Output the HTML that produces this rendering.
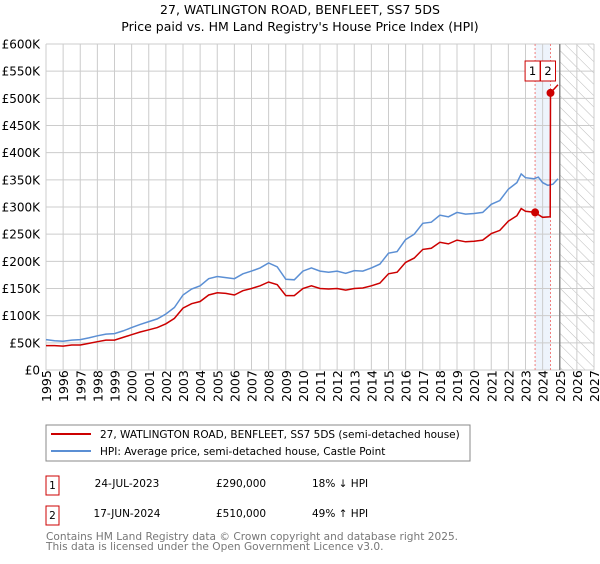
<!DOCTYPE html>
<html><head><meta charset="utf-8"><style>
body{margin:0;background:#fff;font-family:"DejaVu Sans","Liberation Sans",sans-serif;}
svg text{font-family:"DejaVu Sans","Liberation Sans",sans-serif;}
</style></head><body>
<svg id="c" width="600" height="560" xmlns="http://www.w3.org/2000/svg">
<defs><pattern id="hatch" width="8" height="8" patternUnits="userSpaceOnUse" patternTransform="rotate(-45)"><line x1="0" y1="0" x2="0" y2="8" stroke="#bbb" stroke-width="1"/></pattern></defs>
<text x="300" y="14" text-anchor="middle" font-size="12.5">27, WATLINGTON ROAD, BENFLEET, SS7 5DS</text>
<text x="300" y="31" text-anchor="middle" font-size="12.5">Price paid vs. HM Land Registry's House Price Index (HPI)</text>
<g id="plot"></g>
<g>
<rect x="46" y="425" width="424" height="36" fill="#fff" stroke="#888"/>
<line x1="51" y1="434" x2="91" y2="434" stroke="#cc0000" stroke-width="2"/>
<text x="100" y="438" font-size="10.5">27, WATLINGTON ROAD, BENFLEET, SS7 5DS (semi-detached house)</text>
<line x1="51" y1="451" x2="91" y2="451" stroke="#5b8fd4" stroke-width="2"/>
<text x="100" y="455" font-size="10.5">HPI: Average price, semi-detached house, Castle Point</text>
</g>
<g font-size="10.5">
<rect x="46" y="476" width="13" height="19" fill="#fff" stroke="#cc0000"/>
<text x="52.5" y="489" text-anchor="middle">1</text>
<text x="127" y="487" text-anchor="middle">24-JUL-2023</text>
<text x="216" y="487">£290,000</text>
<text x="312" y="487">18% ↓ HPI</text>
<rect x="46" y="506" width="13" height="19" fill="#fff" stroke="#cc0000"/>
<text x="52.5" y="519" text-anchor="middle">2</text>
<text x="127" y="517" text-anchor="middle">17-JUN-2024</text>
<text x="216" y="517">£510,000</text>
<text x="312" y="517">49% ↑ HPI</text>
</g>
<text x="46" y="540" font-size="10.6" fill="#777">Contains HM Land Registry data © Crown copyright and database right 2025.</text>
<text x="46" y="550" font-size="10.6" fill="#777">This data is licensed under the Open Government Licence v3.0.</text>
</svg>
<script>
const hpiYears=[1995,1995.5,1996,1996.5,1997,1997.5,1998,1998.5,1999,1999.5,2000,2000.5,2001,2001.5,2002,2002.5,2003,2003.5,2004,2004.5,2005,2005.5,2006,2006.5,2007,2007.5,2008,2008.5,2009,2009.5,2010,2010.5,2011,2011.5,2012,2012.5,2013,2013.5,2014,2014.5,2015,2015.5,2016,2016.5,2017,2017.5,2018,2018.5,2019,2019.5,2020,2020.5,2021,2021.5,2022,2022.5,2022.75,2023,2023.5,2023.75,2024,2024.3,2024.6,2024.9];
const hpiValues=[56,54,53,55,56,59,63,66,67,72,78,84,89,94,103,115,138,149,155,168,172,170,168,177,182,188,197,190,167,166,182,188,182,180,182,178,183,182,188,195,215,218,240,250,270,272,285,282,290,287,288,290,305,312,333,345,361,354,352,355,345,340,342,352];
const priceYears=[1995,1995.5,1996,1996.5,1997,1997.5,1998,1998.5,1999,1999.5,2000,2000.5,2001,2001.5,2002,2002.5,2003,2003.5,2004,2004.5,2005,2005.5,2006,2006.5,2007,2007.5,2008,2008.5,2009,2009.5,2010,2010.5,2011,2011.5,2012,2012.5,2013,2013.5,2014,2014.5,2015,2015.5,2016,2016.5,2017,2017.5,2018,2018.5,2019,2019.5,2020,2020.5,2021,2021.5,2022,2022.5,2022.75,2023,2023.56,2023.75,2024,2024.44,2024.46,2024.9];
const priceValues=[45,45,44,46,46,49,52,55,55,60,65,70,74,78,85,95,114,122,126,138,142,141,138,146,150,155,162,157,137,137,150,155,150,149,150,147,150,151,155,160,177,180,198,206,222,224,235,232,239,236,237,239,251,257,274,284,297,292,290,286,281,282,510,525];
const saleYears=[2023.56,2024.46];
const saleValues=[290,510];
const saleLabels=["1","2"];
const yTicks=[0,50,100,150,200,250,300,350,400,450,500,550,600];
const yTickLabels=["£0","£50K","£100K","£150K","£200K","£250K","£300K","£350K","£400K","£450K","£500K","£550K","£600K"];
const xTicks=[1995,1996,1997,1998,1999,2000,2001,2002,2003,2004,2005,2006,2007,2008,2009,2010,2011,2012,2013,2014,2015,2016,2017,2018,2019,2020,2021,2022,2023,2024,2025,2026,2027];
const dataEnd=2025;

const L=46,R=594,T=44,B=370,X0=1995,X1=2027,Ymax=600;
const sx=v=>L+(v-X0)/(X1-X0)*(R-L);
const sy=v=>B-v/Ymax*(B-T);
const NS="http://www.w3.org/2000/svg";
const g=document.getElementById('plot');
function mk(tag,attrs,parent){const e=document.createElementNS(NS,tag);for(const k in attrs)e.setAttribute(k,attrs[k]);(parent||g).appendChild(e);return e;}
let e=mk('rect',{x:sx(saleYears[0]),y:T,width:sx(saleYears[1])-sx(saleYears[0]),height:B-T,fill:'#eef4fc'});


e=mk('rect',{x:sx(dataEnd),y:T,width:R-sx(dataEnd),height:B-T,fill:'url(#hatch)'});


yTicks.forEach((v,i)=>{
  let l=mk('line',{x1:L,x2:R,y1:sy(v),y2:sy(v),stroke:'#ccc','stroke-width':1});
  
  
  let t=mk('text',{x:40,y:sy(v)+4.5,'text-anchor':'end','font-size':12});
  t.textContent=yTickLabels[i];
  
  
});
xTicks.forEach(v=>{
  let l=mk('line',{x1:sx(v),x2:sx(v),y1:T,y2:B,stroke:'#ccc','stroke-width':1});
  
  
  let t=mk('text',{x:0,y:0,'font-size':12.5,transform:`translate(${sx(v)+5},${B+32}) rotate(-90)`});
  t.textContent=v;
  
  
});
e=mk('line',{x1:sx(dataEnd),x2:sx(dataEnd),y1:T,y2:B,stroke:'#888','stroke-width':1.5});


saleYears.forEach(v=>{
  let l=mk('line',{x1:sx(v),x2:sx(v),y1:T,y2:B,stroke:'#f08080','stroke-width':1,'stroke-dasharray':'2,2'});
  
  
});
function path(xs,ys){return xs.map((x,i)=>(i?'L':'M')+sx(x).toFixed(1)+','+sy(ys[i]).toFixed(1)).join('');}
e=mk('path',{d:path(hpiYears,hpiValues),fill:'none',stroke:'#5b8fd4','stroke-width':1.5});


e=mk('path',{d:path(priceYears,priceValues),fill:'none',stroke:'#cc0000','stroke-width':1.5});


saleYears.forEach((v,i)=>{
  let c=mk('circle',{cx:sx(v),cy:sy(saleValues[i]),r:4,fill:'#cc0000'});
  
  
  const bx=sx(v)-10;
  let r=mk('rect',{x:bx,y:61,width:15,height:20,fill:'#fff',stroke:'#cc0000'});
  
  
  let t=mk('text',{x:bx+7.5,y:75,'text-anchor':'middle','font-size':11.5});
  t.textContent=saleLabels[i];
  
  
});
</script>
</body></html>
